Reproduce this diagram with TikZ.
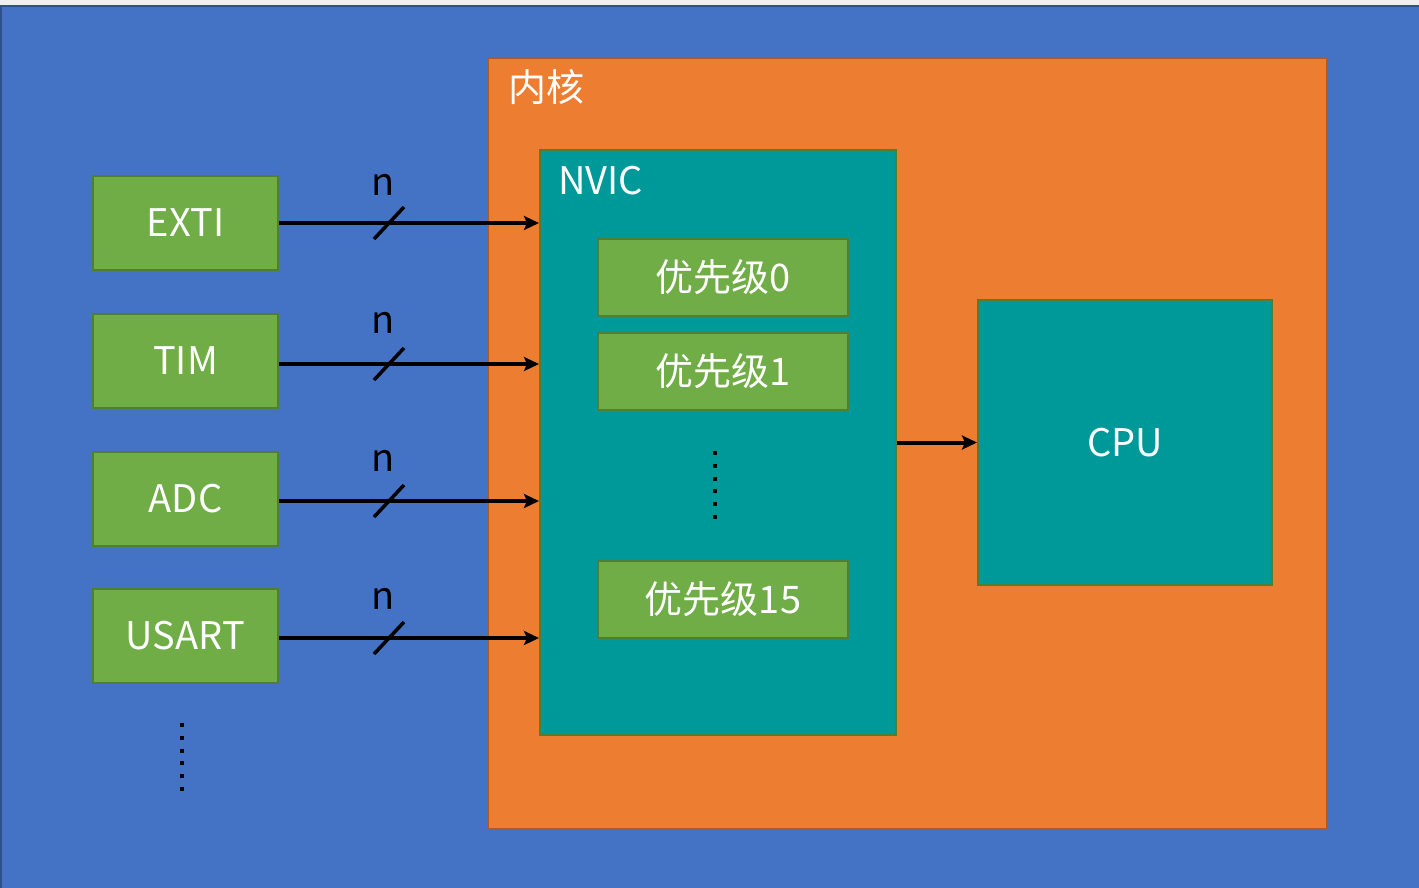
\documentclass[tikz,border=0pt]{standalone}
\usepackage{fontspec}
\setmainfont{Noto Sans CJK SC}
\usetikzlibrary{arrows.meta}
\definecolor{bgblue}{HTML}{4472C4}
\definecolor{bgblueline}{HTML}{2F528F}
\definecolor{coreorange}{HTML}{ED7D31}
\definecolor{coreline}{HTML}{AE5A21}
\definecolor{nvicteal}{HTML}{009999}
\definecolor{boxgreen}{HTML}{70AD47}
\definecolor{boxline}{HTML}{507E32}
\begin{document}
\begin{tikzpicture}
[x=1pt,y=-1pt,
 periph/.style={draw=boxline,fill=boxgreen,line width=2pt,text=white,inner sep=0pt,
   minimum width=185,minimum height=94,font=\fontsize{38}{40}\selectfont},
 prio/.style={periph,minimum width=250,minimum height=77},
 tealbox/.style={draw=boxline,fill=nvicteal,line width=2pt,text=white,inner sep=0pt,
   font=\fontsize{38}{40}\selectfont},
 title/.style={anchor=west,text=white,inner sep=0pt,font=\fontsize{38}{40}\selectfont},
 bus/.style={line width=4pt,-{Stealth[length=15pt,width=14pt,inset=3pt]}},
 busmark/.style={line width=3.5pt},
 busnum/.style={inner sep=0pt,font=\fontsize{38}{40}\selectfont},
 dots/.style={line width=4pt,dash pattern=on 4pt off 8.8pt}]
\useasboundingbox (0,0) rectangle (1419,887);
\fill [gray!12] (0,0) rectangle (1419,887);
\draw [draw=bgblueline,fill=bgblue,line width=2pt] (1,6) rectangle (1430,900);
% core
\node (core) at (907.5,443.5) [draw=coreline,fill=coreorange,line width=2pt,
  minimum width=839,minimum height=771,inner sep=0pt] {};
\node (coretitle) at (508,87) [title] {内核};
% nvic
\node (nvic) at (718,442.5) [tealbox,minimum width=356,minimum height=585] {};
\node (nvictitle) at (558,181) [title] {NVIC};
\node (p0) at (723,277.5) [prio] {优先级0};
\node (p1) at (723,371.5) [prio] {优先级1};
\node (p15) at (723,599.5) [prio] {优先级15};
\draw [dots] (715,451) -- (715,520);
% cpu
\node (cpu) at (1125,442.5) [tealbox,minimum width=294,minimum height=285] {CPU};
% peripherals
\node (exti) at (185.5,223) [periph] {EXTI};
\node (tim) at (185.5,361) [periph] {TIM};
\node (adc) at (185.5,498.5) [periph] {ADC};
\node (usart) at (185.5,636) [periph] {USART};
\draw [dots] (182,723) -- (182,795);
% buses
\coordinate (m1) at (389,223);
\coordinate (m2) at (389,364);
\coordinate (m3) at (389,501);
\coordinate (m4) at (389,638);
\draw [bus] (exti.east |- m1) -- (m1 -| nvic.west);
\draw [bus] (tim.east |- m2) -- (m2 -| nvic.west);
\draw [bus] (adc.east |- m3) -- (m3 -| nvic.west);
\draw [bus] (usart.east |- m4) -- (m4 -| nvic.west);
\draw [busmark] ([shift={(-15,16)}]m1) -- ([shift={(15,-16)}]m1);
\draw [busmark] ([shift={(-15,16)}]m2) -- ([shift={(15,-16)}]m2);
\draw [busmark] ([shift={(-15,16)}]m3) -- ([shift={(15,-16)}]m3);
\draw [busmark] ([shift={(-15,16)}]m4) -- ([shift={(15,-16)}]m4);
\node (n1) at (383,185) [busnum] {n};
\node (n2) at (383,323) [busnum] {n};
\node (n3) at (383,461) [busnum] {n};
\node (n4) at (383,599) [busnum] {n};
\draw [bus] (nvic) -- (cpu);
\end{tikzpicture}
\end{document}
